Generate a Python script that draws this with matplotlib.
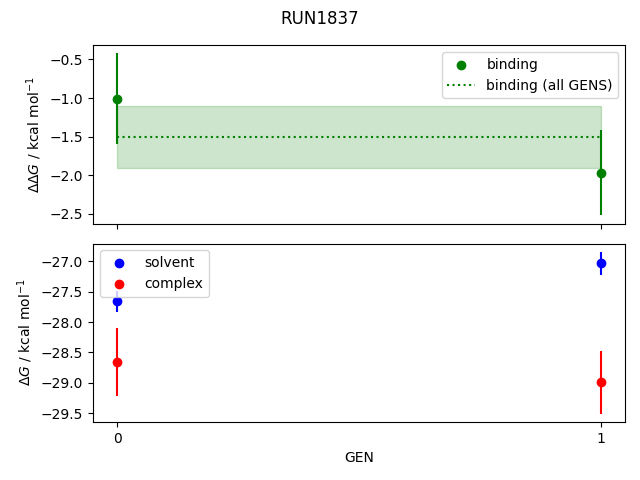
import matplotlib
matplotlib.use("Agg")
import matplotlib.pyplot as plt
import numpy as np

gens = [0, 1]
binding = [-1.01, -1.97]
binding_err = [0.59, 0.55]
binding_all = -1.50
binding_all_err = 0.40
solvent = [-27.66, -27.03]
solvent_err = [0.17, 0.19]
complex_ = [-28.66, -28.99]
complex_err = [0.56, 0.52]

fig, (ax1, ax2) = plt.subplots(2, 1, sharex=True, figsize=(6.4, 4.8), dpi=100)
fig.suptitle("RUN1837")

ax1.scatter(gens, binding, color="green", label="binding")
ax1.errorbar(gens, binding, yerr=binding_err, fmt="none", ecolor="green")
ax1.hlines(binding_all, gens[0], gens[-1], colors="green", linestyles=":", label="binding (all GENS)")
ax1.fill_between(gens, binding_all - binding_all_err, binding_all + binding_all_err, color="green", alpha=0.2)
ax1.set_ylabel(r"$\Delta\Delta G$ / kcal mol$^{-1}$")
ax1.legend(loc="upper right")

ax2.scatter(gens, solvent, color="blue", label="solvent")
ax2.errorbar(gens, solvent, yerr=solvent_err, fmt="none", ecolor="blue")
ax2.scatter(gens, complex_, color="red", label="complex")
ax2.errorbar(gens, complex_, yerr=complex_err, fmt="none", ecolor="red")
ax2.set_ylabel(r"$\Delta G$ / kcal mol$^{-1}$")
ax2.set_xlabel("GEN")
ax2.set_xticks(gens)
ax2.legend(loc="upper left")

fig.subplots_adjust(left=0.145, right=0.977, top=0.906, bottom=0.121, hspace=0.112)
fig.savefig("out.png")
